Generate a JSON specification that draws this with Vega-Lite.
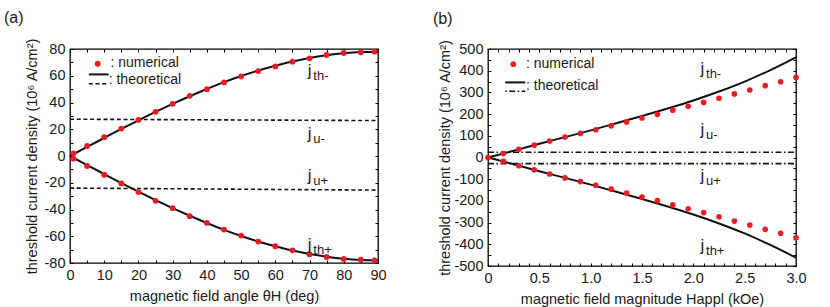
{
  "$schema": "https://vega.github.io/schema/vega-lite/v6.json",
  "padding": {"left": 3, "top": 9, "right": 5, "bottom": 5},
  "spacing": 45,
  "config": {
    "font": "Liberation Sans",
    "view": {"stroke": "#000", "strokeWidth": 1.3},
    "axis": {"domain": false, "grid": false, "tickColor": "#000", "tickSize": -3, "tickWidth": 1, "labelFont": "Liberation Sans", "labelFontSize": 14.5, "labelColor": "#1a1a1a", "titleFont": "Liberation Sans", "titleFontSize": 14.5, "titleFontWeight": "normal", "titleColor": "#1a1a1a", "labelPadding": 8, "labelFlush": false, "labelOverlap": false},
    "title": {"font": "Liberation Sans", "fontSize": 16, "fontWeight": "normal", "color": "#1a1a1a", "anchor": "start", "frame": "bounds"}
  },
  "datasets": {
    "a_th": [
      {"x": 0, "y": 0, "b": "m"}, {"x": 5, "y": 6.8, "b": "m"}, {"x": 10, "y": 13.5, "b": "m"}, {"x": 15, "y": 20.2, "b": "m"}, {"x": 20, "y": 26.7, "b": "m"}, {"x": 25, "y": 33, "b": "m"}, {"x": 30, "y": 39, "b": "m"}, {"x": 35, "y": 44.7, "b": "m"}, {"x": 40, "y": 50.1, "b": "m"}, {"x": 45, "y": 55.2, "b": "m"}, {"x": 50, "y": 59.8, "b": "m"}, {"x": 55, "y": 63.9, "b": "m"}, {"x": 60, "y": 67.5, "b": "m"}, {"x": 65, "y": 70.7, "b": "m"}, {"x": 70, "y": 73.3, "b": "m"}, {"x": 75, "y": 75.3, "b": "m"}, {"x": 80, "y": 76.8, "b": "m"}, {"x": 85, "y": 77.7, "b": "m"}, {"x": 90, "y": 78, "b": "m"},
      {"x": 0, "y": 0, "b": "p"}, {"x": 5, "y": -6.8, "b": "p"}, {"x": 10, "y": -13.5, "b": "p"}, {"x": 15, "y": -20.2, "b": "p"}, {"x": 20, "y": -26.7, "b": "p"}, {"x": 25, "y": -33, "b": "p"}, {"x": 30, "y": -39, "b": "p"}, {"x": 35, "y": -44.7, "b": "p"}, {"x": 40, "y": -50.1, "b": "p"}, {"x": 45, "y": -55.2, "b": "p"}, {"x": 50, "y": -59.8, "b": "p"}, {"x": 55, "y": -63.9, "b": "p"}, {"x": 60, "y": -67.5, "b": "p"}, {"x": 65, "y": -70.7, "b": "p"}, {"x": 70, "y": -73.3, "b": "p"}, {"x": 75, "y": -75.3, "b": "p"}, {"x": 80, "y": -76.8, "b": "p"}, {"x": 85, "y": -77.7, "b": "p"}, {"x": 90, "y": -78, "b": "p"}
    ],
    "a_u": [
      {"x": 0, "y": 27.5, "b": "m"}, {"x": 90, "y": 26.5, "b": "m"},
      {"x": 0, "y": -24, "b": "p"}, {"x": 90, "y": -25.5, "b": "p"}
    ],
    "a_pts": [
      {"x": 1, "y": 2}, {"x": 5, "y": 7.5}, {"x": 10, "y": 14}, {"x": 15, "y": 20.5}, {"x": 20, "y": 27}, {"x": 25, "y": 33}, {"x": 30, "y": 39}, {"x": 35, "y": 45}, {"x": 40, "y": 50}, {"x": 45, "y": 55}, {"x": 50, "y": 59.5}, {"x": 55, "y": 63.5}, {"x": 60, "y": 67}, {"x": 65, "y": 70.5}, {"x": 70, "y": 73}, {"x": 75, "y": 75.5}, {"x": 80, "y": 77}, {"x": 85, "y": 77.5}, {"x": 89, "y": 78},
      {"x": 1, "y": -2}, {"x": 5, "y": -7.5}, {"x": 10, "y": -14}, {"x": 15, "y": -20.5}, {"x": 20, "y": -27}, {"x": 25, "y": -33.5}, {"x": 30, "y": -39}, {"x": 35, "y": -45}, {"x": 40, "y": -50}, {"x": 45, "y": -55}, {"x": 50, "y": -59.5}, {"x": 55, "y": -64}, {"x": 60, "y": -67.5}, {"x": 65, "y": -70.5}, {"x": 70, "y": -73.5}, {"x": 75, "y": -75.5}, {"x": 80, "y": -77}, {"x": 85, "y": -77.5}, {"x": 89, "y": -78}
    ],
    "a_lab": [
      {"x": 69.5, "y": 59.5, "s": "th-"}, {"x": 69.5, "y": 12.9, "s": "u-"}, {"x": 69.5, "y": -19, "s": "u+"}, {"x": 69.5, "y": -70, "s": "th+"}
    ],
    "a_leg_pt": [{"x": 8.1, "y": 69}],
    "a_leg_ln": [{"x": 5.5, "x2": 11.3, "y": 61, "k": "solid"}, {"x": 5.5, "x2": 11.3, "y": 54, "k": "dash"}],
    "a_leg_tx": [{"x": 11.8, "y": 69.5, "t": ": numerical"}, {"x": 11.3, "y": 57, "t": ": theoretical"}],
    "b_th": [
      {"x": 0, "y": 0, "b": "m"}, {"x": 0.25, "y": 31, "b": "m"}, {"x": 0.5, "y": 63, "b": "m"}, {"x": 0.75, "y": 94, "b": "m"}, {"x": 1.0, "y": 125, "b": "m"}, {"x": 1.25, "y": 158, "b": "m"}, {"x": 1.5, "y": 191, "b": "m"}, {"x": 1.75, "y": 226, "b": "m"}, {"x": 2.0, "y": 263, "b": "m"}, {"x": 2.25, "y": 304, "b": "m"}, {"x": 2.5, "y": 350, "b": "m"}, {"x": 2.75, "y": 403, "b": "m"}, {"x": 3.0, "y": 462, "b": "m"},
      {"x": 0, "y": 0, "b": "p"}, {"x": 0.25, "y": -31, "b": "p"}, {"x": 0.5, "y": -63, "b": "p"}, {"x": 0.75, "y": -94, "b": "p"}, {"x": 1.0, "y": -125, "b": "p"}, {"x": 1.25, "y": -158, "b": "p"}, {"x": 1.5, "y": -191, "b": "p"}, {"x": 1.75, "y": -226, "b": "p"}, {"x": 2.0, "y": -263, "b": "p"}, {"x": 2.25, "y": -304, "b": "p"}, {"x": 2.5, "y": -350, "b": "p"}, {"x": 2.75, "y": -403, "b": "p"}, {"x": 3.0, "y": -462, "b": "p"}
    ],
    "b_u": [
      {"x": 0, "y": 24, "b": "m"}, {"x": 3, "y": 24, "b": "m"},
      {"x": 0, "y": -28, "b": "p"}, {"x": 3, "y": -28, "b": "p"}
    ],
    "b_pts": [
      {"x": 0, "y": 0}, {"x": 0.15, "y": 18}, {"x": 0.3, "y": 38}, {"x": 0.45, "y": 57}, {"x": 0.6, "y": 76}, {"x": 0.75, "y": 94}, {"x": 0.9, "y": 111}, {"x": 1.05, "y": 128}, {"x": 1.2, "y": 146}, {"x": 1.35, "y": 164}, {"x": 1.5, "y": 182}, {"x": 1.65, "y": 199}, {"x": 1.8, "y": 218}, {"x": 1.95, "y": 236}, {"x": 2.1, "y": 254}, {"x": 2.25, "y": 273}, {"x": 2.4, "y": 293}, {"x": 2.55, "y": 311}, {"x": 2.7, "y": 331}, {"x": 2.85, "y": 349}, {"x": 3.0, "y": 369},
      {"x": 0.15, "y": -18}, {"x": 0.3, "y": -38}, {"x": 0.45, "y": -57}, {"x": 0.6, "y": -76}, {"x": 0.75, "y": -94}, {"x": 0.9, "y": -111}, {"x": 1.05, "y": -128}, {"x": 1.2, "y": -146}, {"x": 1.35, "y": -164}, {"x": 1.5, "y": -182}, {"x": 1.65, "y": -199}, {"x": 1.8, "y": -218}, {"x": 1.95, "y": -236}, {"x": 2.1, "y": -254}, {"x": 2.25, "y": -273}, {"x": 2.4, "y": -293}, {"x": 2.55, "y": -311}, {"x": 2.7, "y": -331}, {"x": 2.85, "y": -349}, {"x": 3.0, "y": -370}
    ],
    "b_lab": [
      {"x": 2.07, "y": 383, "s": "th-"}, {"x": 2.07, "y": 102, "s": "u-"}, {"x": 2.07, "y": -108, "s": "u+"}, {"x": 2.07, "y": -431, "s": "th+"}
    ],
    "b_leg_pt": [{"x": 0.246, "y": 430}],
    "b_leg_ln": [{"x": 0.168, "x2": 0.363, "y": 346, "k": "solid"}, {"x": 0.168, "x2": 0.363, "y": 305, "k": "dash"}],
    "b_leg_tx": [{"x": 0.37, "y": 432, "t": ": numerical"}, {"x": 0.37, "y": 328, "t": ": theoretical"}]
  },
  "hconcat": [
    {
      "title": {"text": "(a)", "dx": -20, "offset": 12},
      "width": 308,
      "height": 214,
      "resolve": {"axis": {"x": "independent", "y": "independent"}},
      "layer": [
        {
          "data": {"name": "a_th"},
          "mark": {"type": "line", "color": "#111", "strokeWidth": 2, "interpolate": "monotone"},
          "encoding": {
            "x": {"field": "x", "type": "quantitative", "scale": {"domain": [0, 90], "nice": false, "zero": false},
              "axis": {"title": "magnetic field angle θH (deg)", "titlePadding": 8, "values": [0,5,10,15,20,25,30,35,40,45,50,55,60,65,70,75,80,85,90], "labelExpr": "datum.value % 10 == 0 ? '' + datum.value : ''"}},
            "y": {"field": "y", "type": "quantitative", "scale": {"domain": [-80, 80], "nice": false, "zero": false},
              "axis": {"title": "threshold current density (10⁶ A/cm²)", "titlePadding": 5, "values": [-80,-70,-60,-50,-40,-30,-20,-10,0,10,20,30,40,50,60,70,80], "labelExpr": "datum.value % 20 == 0 ? '' + datum.value : ''"}},
            "detail": {"field": "b"}
          }
        },
        {
          "data": {"name": "a_u"},
          "mark": {"type": "line", "color": "#111", "strokeWidth": 1.6, "strokeDash": [4, 2.7]},
          "encoding": {
            "x": {"field": "x", "type": "quantitative", "axis": {"orient": "top", "labels": false, "title": null, "values": [0,5,10,15,20,25,30,35,40,45,50,55,60,65,70,75,80,85,90]}},
            "y": {"field": "y", "type": "quantitative", "axis": {"orient": "right", "labels": false, "title": null, "values": [-80,-70,-60,-50,-40,-30,-20,-10,0,10,20,30,40,50,60,70,80]}},
            "detail": {"field": "b"}
          }
        },
        {
          "data": {"name": "a_pts"},
          "mark": {"type": "circle", "color": "#ec1c24", "opacity": 1, "size": 34},
          "encoding": {
            "x": {"field": "x", "type": "quantitative", "axis": null},
            "y": {"field": "y", "type": "quantitative", "axis": null}
          }
        },
        {
          "data": {"name": "a_lab"},
          "mark": {"type": "text", "text": "j", "fontSize": 17, "align": "left", "baseline": "alphabetic", "color": "#1a1a1a"},
          "encoding": {
            "x": {"field": "x", "type": "quantitative", "axis": null},
            "y": {"field": "y", "type": "quantitative", "axis": null}
          }
        },
        {
          "data": {"name": "a_lab"},
          "mark": {"type": "text", "fontSize": 13, "align": "left", "baseline": "alphabetic", "dx": 5.5, "dy": 4, "color": "#1a1a1a"},
          "encoding": {
            "x": {"field": "x", "type": "quantitative", "axis": null},
            "y": {"field": "y", "type": "quantitative", "axis": null},
            "text": {"field": "s"}
          }
        },
        {
          "data": {"name": "a_leg_pt"},
          "mark": {"type": "circle", "color": "#ec1c24", "opacity": 1, "size": 34},
          "encoding": {
            "x": {"field": "x", "type": "quantitative", "axis": null},
            "y": {"field": "y", "type": "quantitative", "axis": null}
          }
        },
        {
          "data": {"name": "a_leg_ln"},
          "transform": [{"filter": "datum.k == 'solid'"}],
          "mark": {"type": "rule", "color": "#111", "strokeWidth": 2},
          "encoding": {
            "x": {"field": "x", "type": "quantitative", "axis": null},
            "x2": {"field": "x2"},
            "y": {"field": "y", "type": "quantitative", "axis": null}
          }
        },
        {
          "data": {"name": "a_leg_ln"},
          "transform": [{"filter": "datum.k == 'dash'"}],
          "mark": {"type": "rule", "color": "#111", "strokeWidth": 1.6, "strokeDash": [4, 2.7]},
          "encoding": {
            "x": {"field": "x", "type": "quantitative", "axis": null},
            "x2": {"field": "x2"},
            "y": {"field": "y", "type": "quantitative", "axis": null}
          }
        },
        {
          "data": {"name": "a_leg_tx"},
          "mark": {"type": "text", "fontSize": 14, "align": "left", "baseline": "middle", "color": "#1a1a1a"},
          "encoding": {
            "x": {"field": "x", "type": "quantitative", "axis": null},
            "y": {"field": "y", "type": "quantitative", "axis": null},
            "text": {"field": "t"}
          }
        }
      ]
    },
    {
      "title": {"text": "(b)", "dx": -5, "offset": 12},
      "width": 308,
      "height": 217,
      "resolve": {"axis": {"x": "independent", "y": "independent"}},
      "layer": [
        {
          "data": {"name": "b_th"},
          "mark": {"type": "line", "color": "#111", "strokeWidth": 2, "interpolate": "monotone"},
          "encoding": {
            "x": {"field": "x", "type": "quantitative", "scale": {"domain": [0, 3], "nice": false, "zero": false},
              "axis": {"title": "magnetic field magnitude Happl (kOe)", "titlePadding": 8, "values": [0,0.1,0.2,0.3,0.4,0.5,0.6,0.7,0.8,0.9,1.0,1.1,1.2,1.3,1.4,1.5,1.6,1.7,1.8,1.9,2.0,2.1,2.2,2.3,2.4,2.5,2.6,2.7,2.8,2.9,3.0], "labelExpr": "abs(datum.value * 2 - round(datum.value * 2)) < 0.001 ? (datum.value == 0 ? '0' : format(datum.value, '.1f')) : ''"}},
            "y": {"field": "y", "type": "quantitative", "scale": {"domain": [-500, 500], "nice": false, "zero": false},
              "axis": {"title": "threshold current density (10⁶ A/cm²)", "titlePadding": 1, "values": [-500,-450,-400,-350,-300,-250,-200,-150,-100,-50,0,50,100,150,200,250,300,350,400,450,500], "labelExpr": "datum.value % 100 == 0 ? '' + datum.value : ''"}},
            "detail": {"field": "b"}
          }
        },
        {
          "data": {"name": "b_u"},
          "mark": {"type": "line", "color": "#111", "strokeWidth": 1.6, "strokeDash": [6, 2.5, 1.5, 2.5]},
          "encoding": {
            "x": {"field": "x", "type": "quantitative", "axis": {"orient": "top", "labels": false, "title": null, "values": [0,0.1,0.2,0.3,0.4,0.5,0.6,0.7,0.8,0.9,1.0,1.1,1.2,1.3,1.4,1.5,1.6,1.7,1.8,1.9,2.0,2.1,2.2,2.3,2.4,2.5,2.6,2.7,2.8,2.9,3.0]}},
            "y": {"field": "y", "type": "quantitative", "axis": {"orient": "right", "labels": false, "title": null, "values": [-500,-450,-400,-350,-300,-250,-200,-150,-100,-50,0,50,100,150,200,250,300,350,400,450,500]}},
            "detail": {"field": "b"}
          }
        },
        {
          "data": {"name": "b_pts"},
          "mark": {"type": "circle", "color": "#ec1c24", "opacity": 1, "size": 32},
          "encoding": {
            "x": {"field": "x", "type": "quantitative", "axis": null},
            "y": {"field": "y", "type": "quantitative", "axis": null}
          }
        },
        {
          "data": {"name": "b_lab"},
          "mark": {"type": "text", "text": "j", "fontSize": 17, "align": "left", "baseline": "alphabetic", "color": "#1a1a1a"},
          "encoding": {
            "x": {"field": "x", "type": "quantitative", "axis": null},
            "y": {"field": "y", "type": "quantitative", "axis": null}
          }
        },
        {
          "data": {"name": "b_lab"},
          "mark": {"type": "text", "fontSize": 13, "align": "left", "baseline": "alphabetic", "dx": 5.5, "dy": 4, "color": "#1a1a1a"},
          "encoding": {
            "x": {"field": "x", "type": "quantitative", "axis": null},
            "y": {"field": "y", "type": "quantitative", "axis": null},
            "text": {"field": "s"}
          }
        },
        {
          "data": {"name": "b_leg_pt"},
          "mark": {"type": "circle", "color": "#ec1c24", "opacity": 1, "size": 32},
          "encoding": {
            "x": {"field": "x", "type": "quantitative", "axis": null},
            "y": {"field": "y", "type": "quantitative", "axis": null}
          }
        },
        {
          "data": {"name": "b_leg_ln"},
          "transform": [{"filter": "datum.k == 'solid'"}],
          "mark": {"type": "rule", "color": "#111", "strokeWidth": 2},
          "encoding": {
            "x": {"field": "x", "type": "quantitative", "axis": null},
            "x2": {"field": "x2"},
            "y": {"field": "y", "type": "quantitative", "axis": null}
          }
        },
        {
          "data": {"name": "b_leg_ln"},
          "transform": [{"filter": "datum.k == 'dash'"}],
          "mark": {"type": "rule", "color": "#111", "strokeWidth": 1.6, "strokeDash": [1.5, 2.5, 6, 2.5]},
          "encoding": {
            "x": {"field": "x", "type": "quantitative", "axis": null},
            "x2": {"field": "x2"},
            "y": {"field": "y", "type": "quantitative", "axis": null}
          }
        },
        {
          "data": {"name": "b_leg_tx"},
          "mark": {"type": "text", "fontSize": 14, "align": "left", "baseline": "middle", "color": "#1a1a1a"},
          "encoding": {
            "x": {"field": "x", "type": "quantitative", "axis": null},
            "y": {"field": "y", "type": "quantitative", "axis": null},
            "text": {"field": "t"}
          }
        }
      ]
    }
  ]
}
